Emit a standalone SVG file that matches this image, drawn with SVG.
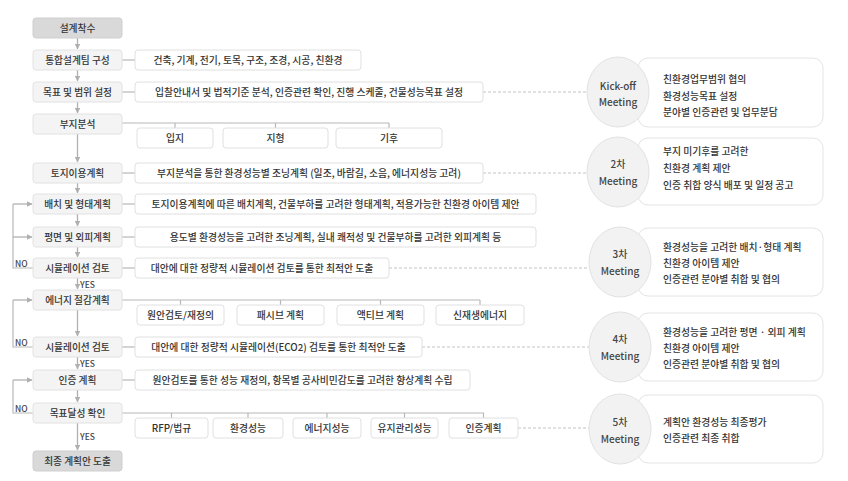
<svg xmlns="http://www.w3.org/2000/svg" width="848" height="481" viewBox="0 0 848 481">
<defs>
<style>
text{font-family:"Noto Sans CJK KR","Noto Sans",sans-serif;fill:#333;dominant-baseline:central;font-weight:500}
.m{font-size:9.7px;text-anchor:middle}
.s{font-size:9.8px;text-anchor:middle}
.t{font-size:9.8px}
.c{font-size:10px;text-anchor:middle;fill:#444}
.lbl{font-size:8.5px;fill:#444}
.mb{fill:#f4f4f4;stroke:#e2e2e2;stroke-width:1}
.gb{fill:#d9d9d9;stroke:#cfcfcf;stroke-width:1}
.sb{fill:#fff;stroke:#e0e0e0;stroke-width:1}
.mt{fill:#fff;stroke:#e4e4e4;stroke-width:1}
.ci{fill:#f2f2f2;stroke:#e2e2e2;stroke-width:1}
.ln{fill:none;stroke:#b8b8b8;stroke-width:1.2}
.ar{fill:none;stroke:#b0b0b0;stroke-width:1.3;marker-end:url(#ah)}
.dl{fill:none;stroke:#c4c4c4;stroke-width:1;stroke-dasharray:3 2}
</style>
<marker id="ah" viewBox="0 0 10 10" refX="9" refY="5" markerWidth="6" markerHeight="6" markerUnits="userSpaceOnUse" orient="auto">
<path d="M0,0 L10,5 L0,10 z" fill="#b0b0b0"/>
</marker>
</defs>
<rect width="848" height="481" fill="#fff"/>
<g id="connectors">
<line class="ar" x1="77.5" y1="38" x2="77.5" y2="49"/>
<line class="ar" x1="77.5" y1="70" x2="77.5" y2="81"/>
<line class="ar" x1="77.5" y1="102" x2="77.5" y2="113"/>
<line class="ar" x1="77.5" y1="134" x2="77.5" y2="162"/>
<line class="ar" x1="77.5" y1="183" x2="77.5" y2="193"/>
<line class="ar" x1="77.5" y1="214" x2="77.5" y2="226"/>
<line class="ar" x1="77.5" y1="247" x2="77.5" y2="257"/>
<line class="ar" x1="77.5" y1="278" x2="77.5" y2="289"/>
<line class="ar" x1="77.5" y1="310" x2="77.5" y2="336"/>
<line class="ar" x1="77.5" y1="357" x2="77.5" y2="369"/>
<line class="ar" x1="77.5" y1="390" x2="77.5" y2="402"/>
<line class="ar" x1="77.5" y1="423" x2="77.5" y2="450"/>
<line class="ln" x1="122" y1="60" x2="135" y2="60"/>
<line class="ln" x1="122" y1="92" x2="135" y2="92"/>
<line class="ln" x1="122" y1="173" x2="135" y2="173"/>
<line class="ln" x1="122" y1="204" x2="135" y2="204"/>
<line class="ln" x1="122" y1="237" x2="135" y2="237"/>
<line class="ln" x1="122" y1="268" x2="135" y2="268"/>
<line class="ln" x1="122" y1="347" x2="135" y2="347"/>
<line class="ln" x1="122" y1="380" x2="135" y2="380"/>
<path class="ln" d="M122,123 H389 M175,123 V128 M275.5,123 V128 M389,123 V128"/>
<path class="ln" d="M122,300 H480 M180.5,300 V305 M280.5,300 V305 M380.5,300 V305 M480,300 V305"/>
<path class="ln" d="M122,413 H484 M171.5,413 V418 M248,413 V418 M327,413 V418 M404.5,413 V418 M483.5,413 V418"/>
<path class="ln" d="M33,268 H13 V204"/>
<line class="ar" x1="13" y1="204" x2="32" y2="204"/>
<line class="ar" x1="13" y1="237" x2="32" y2="237"/>
<path class="ln" d="M33,347 H13 V300"/>
<line class="ar" x1="13" y1="300" x2="32" y2="300"/>
<path class="ln" d="M33,413 H13 V380"/>
<line class="ar" x1="13" y1="380" x2="32" y2="380"/>
<line class="dl" x1="483" y1="92" x2="590" y2="92"/>
<line class="dl" x1="483" y1="173" x2="590" y2="173"/>
<line class="dl" x1="389" y1="268" x2="592" y2="268"/>
<line class="dl" x1="422" y1="347" x2="592" y2="347"/>
<line class="dl" x1="518" y1="428" x2="593" y2="428"/>
<text class="lbl" x="15" y="263">NO</text>
<text class="lbl" x="15" y="342">NO</text>
<text class="lbl" x="15" y="408">NO</text>
<text class="lbl" x="80" y="284">YES</text>
<text class="lbl" x="80" y="363">YES</text>
<text class="lbl" x="80" y="436">YES</text>
</g>
<g id="n-start"><rect class="gb" x="33" y="18" width="89" height="20" rx="3"/><text class="m" x="77.5" y="28">설계착수</text></g>
<g id="n-team"><rect class="mb" x="33" y="50" width="89" height="20" rx="3"/><text class="m" x="77.5" y="60">통합설계팀 구성</text></g>
<g id="n-team-d"><rect class="sb" x="135" y="50" width="226" height="20" rx="3"/><text class="s" x="248" y="60">건축, 기계, 전기, 토목, 구조, 조경, 시공, 친환경</text></g>
<g id="n-goal"><rect class="mb" x="33" y="82" width="89" height="20" rx="3"/><text class="m" x="77.5" y="92">목표 및 범위 설정</text></g>
<g id="n-goal-d"><rect class="sb" x="135" y="82" width="348" height="20" rx="3"/><text class="s" x="309" y="92">입찰안내서 및 법적기준 분석, 인증관련 확인, 진행 스케줄, 건물성능목표 설정</text></g>
<g id="n-site"><rect class="mb" x="33" y="114" width="89" height="20" rx="3"/><text class="m" x="77.5" y="124">부지분석</text></g>
<g id="n-site-1"><rect class="sb" x="137" y="128" width="76" height="20" rx="3"/><text class="s" x="175" y="138">입지</text></g>
<g id="n-site-2"><rect class="sb" x="223" y="128" width="105" height="20" rx="3"/><text class="s" x="275.5" y="138">지형</text></g>
<g id="n-site-3"><rect class="sb" x="336" y="128" width="106" height="20" rx="3"/><text class="s" x="389" y="138">기후</text></g>
<g id="n-land"><rect class="mb" x="33" y="163" width="89" height="20" rx="3"/><text class="m" x="77.5" y="173">토지이용계획</text></g>
<g id="n-land-d"><rect class="sb" x="135" y="163" width="348" height="20" rx="3"/><text class="s" x="309" y="173">부지분석을 통한 환경성능별 조닝계획 (일조, 바람길, 소음, 에너지성능 고려)</text></g>
<g id="n-layout"><rect class="mb" x="33" y="194" width="89" height="20" rx="3"/><text class="m" x="77.5" y="204">배치 및 형태계획</text></g>
<g id="n-layout-d"><rect class="sb" x="135" y="194" width="401" height="20" rx="3"/><text class="s" x="335.5" y="204">토지이용계획에 따른 배치계획, 건물부하를 고려한 형태계획, 적용가능한 친환경 아이템 제안</text></g>
<g id="n-plan"><rect class="mb" x="33" y="227" width="89" height="20" rx="3"/><text class="m" x="77.5" y="237">평면 및 외피계획</text></g>
<g id="n-plan-d"><rect class="sb" x="135" y="227" width="401" height="20" rx="3"/><text class="s" x="335.5" y="237">용도별 환경성능을 고려한 조닝계획, 실내 쾌적성 및 건물부하를 고려한 외피계획 등</text></g>
<g id="n-sim1"><rect class="mb" x="33" y="258" width="89" height="20" rx="3"/><text class="m" x="77.5" y="268">시뮬레이션 검토</text></g>
<g id="n-sim1-d"><rect class="sb" x="135" y="258" width="254" height="20" rx="3"/><text class="s" x="262" y="268">대안에 대한 정량적 시뮬레이션 검토를 통한 최적안 도출</text></g>
<g id="n-energy"><rect class="mb" x="33" y="290" width="89" height="20" rx="3"/><text class="m" x="77.5" y="300">에너지 절감계획</text></g>
<g id="n-energy-1"><rect class="sb" x="137" y="305" width="87" height="20" rx="3"/><text class="s" x="180.5" y="315">원안검토/재정의</text></g>
<g id="n-energy-2"><rect class="sb" x="237" y="305" width="87" height="20" rx="3"/><text class="s" x="280.5" y="315">패시브 계획</text></g>
<g id="n-energy-3"><rect class="sb" x="337" y="305" width="87" height="20" rx="3"/><text class="s" x="380.5" y="315">액티브 계획</text></g>
<g id="n-energy-4"><rect class="sb" x="436" y="305" width="88" height="20" rx="3"/><text class="s" x="480" y="315">신재생에너지</text></g>
<g id="n-sim2"><rect class="mb" x="33" y="337" width="89" height="20" rx="3"/><text class="m" x="77.5" y="347">시뮬레이션 검토</text></g>
<g id="n-sim2-d"><rect class="sb" x="135" y="337" width="287" height="20" rx="3"/><text class="s" x="278.5" y="347">대안에 대한 정량적 시뮬레이션(ECO2) 검토를 통한 최적안 도출</text></g>
<g id="n-cert"><rect class="mb" x="33" y="370" width="89" height="20" rx="3"/><text class="m" x="77.5" y="380">인증 계획</text></g>
<g id="n-cert-d"><rect class="sb" x="135" y="370" width="335" height="20" rx="3"/><text class="s" x="302.5" y="380">원안검토를 통한 성능 재정의, 항목별 공사비민감도를 고려한 향상계획 수립</text></g>
<g id="n-check"><rect class="mb" x="33" y="403" width="89" height="20" rx="3"/><text class="m" x="77.5" y="413">목표달성 확인</text></g>
<g id="n-check-1"><rect class="sb" x="135" y="418" width="73" height="20" rx="3"/><text class="s" x="171.5" y="428">RFP/법규</text></g>
<g id="n-check-2"><rect class="sb" x="213" y="418" width="70" height="20" rx="3"/><text class="s" x="248" y="428">환경성능</text></g>
<g id="n-check-3"><rect class="sb" x="293" y="418" width="68" height="20" rx="3"/><text class="s" x="327" y="428">에너지성능</text></g>
<g id="n-check-4"><rect class="sb" x="371" y="418" width="67" height="20" rx="3"/><text class="s" x="404.5" y="428">유지관리성능</text></g>
<g id="n-check-5"><rect class="sb" x="449" y="418" width="69" height="20" rx="3"/><text class="s" x="483.5" y="428">인증계획</text></g>
<g id="n-final"><rect class="gb" x="33" y="451" width="89" height="20" rx="3"/><text class="m" x="77.5" y="461">최종 계획안 도출</text></g>
<g id="m-kickoff">
<rect class="mt" x="638" y="58" width="185" height="69" rx="10"/>
<ellipse class="ci" cx="618" cy="92" rx="31" ry="35"/>
<text class="c" x="618" y="85">Kick-off</text><text class="c" x="618" y="101">Meeting</text>
<text class="t" x="663" y="79">친환경업무범위 협의</text><text class="t" x="663" y="95.5">환경성능목표 설정</text><text class="t" x="663" y="112">분야별 인증관련 및 업무분담</text>
</g>
<g id="m-2">
<rect class="mt" x="638" y="138" width="185" height="67" rx="10"/>
<ellipse class="ci" cx="618" cy="172" rx="31" ry="35"/>
<text class="c" x="618" y="163">2차</text><text class="c" x="618" y="180">Meeting</text>
<text class="t" x="663" y="151">부지 미기후를 고려한</text><text class="t" x="663" y="167.5">친환경 계획 제안</text><text class="t" x="663" y="185">인증 취합 양식 배포 및 일정 공고</text>
</g>
<g id="m-3">
<rect class="mt" x="638" y="228" width="185" height="68" rx="10"/>
<ellipse class="ci" cx="620" cy="262" rx="31" ry="35"/>
<text class="c" x="620" y="253">3차</text><text class="c" x="620" y="270">Meeting</text>
<text class="t" x="663" y="247">환경성능을 고려한 배치·형태 계획</text><text class="t" x="663" y="263">친환경 아이템 제안</text><text class="t" x="663" y="279">인증관련 분야별 취합 및 협의</text>
</g>
<g id="m-4">
<rect class="mt" x="638" y="313" width="185" height="68" rx="10"/>
<ellipse class="ci" cx="620" cy="347" rx="31" ry="35"/>
<text class="c" x="620" y="338">4차</text><text class="c" x="620" y="355">Meeting</text>
<text class="t" x="663" y="332">환경성능을 고려한 평면 · 외피 계획</text><text class="t" x="663" y="348">친환경 아이템 제안</text><text class="t" x="663" y="364">인증관련 분야별 취합 및 협의</text>
</g>
<g id="m-5">
<rect class="mt" x="638" y="395" width="185" height="68" rx="10"/>
<ellipse class="ci" cx="620" cy="429" rx="31" ry="35"/>
<text class="c" x="620" y="421">5차</text><text class="c" x="620" y="438">Meeting</text>
<text class="t" x="663" y="422">계획안 환경성능 최종평가</text><text class="t" x="663" y="438">인증관련 최종 취합</text>
</g>
</svg>
